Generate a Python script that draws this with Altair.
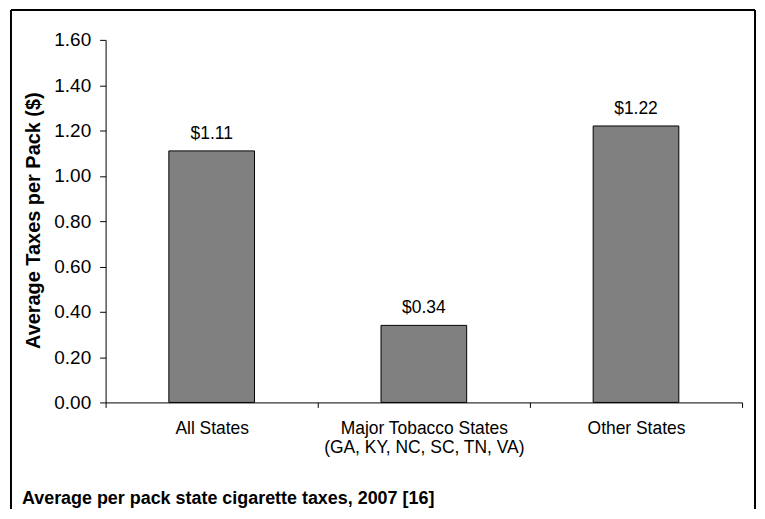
import altair as alt
import pandas as pd

# ---- data ----
categories = ["All States", "Major Tobacco States|(GA, KY, NC, SC, TN, VA)", "Other States"]
taxes = [1.11, 0.34, 1.22]
value_labels = ["$1.11", "$0.34", "$1.22"]
y_ticks = [0.0, 0.2, 0.4, 0.6, 0.8, 1.0, 1.2, 1.4, 1.6]
y_title = "Average Taxes per Pack ($)"
caption = "Average per pack state cigarette taxes, 2007 [16]"

FONT = "Liberation Sans"

df = pd.DataFrame({"category": categories, "tax": taxes, "label": value_labels})
one = pd.DataFrame({"k": [0]})

x_enc = alt.X(
    "category:N",
    sort=categories,
    scale=alt.Scale(paddingInner=0, paddingOuter=0),
    axis=alt.Axis(
        title=None,
        labelAngle=0,
        tickBand="extent",
        labelExpr="split(datum.label, '|')",
        labelFont=FONT,
        labelFontSize=17.5,
        labelColor="black",
        labelBaseline="alphabetic",
        labelPadding=26,
        labelLineHeight=19,
        labelLimit=0,
        labelOverlap=False,
        tickSize=5,
        tickColor="black",
        domainColor="black",
    ),
)

y_enc = alt.Y(
    "tax:Q",
    scale=alt.Scale(domain=[0, 1.6], nice=False, zero=True),
    axis=alt.Axis(
        values=y_ticks,
        format=".2f",
        grid=False,
        title=y_title,
        titleFont=FONT,
        titleFontSize=20,
        titleFontWeight="bold",
        titleColor="black",
        titleAngle=270,
        titleAlign="center",
        titleBaseline="alphabetic",
        titleX=-66,
        titleY=181,
        labelFont=FONT,
        labelFontSize=19,
        labelColor="black",
        labelPadding=9,
        tickSize=6,
        tickColor="black",
        domainColor="black",
    ),
)

bars = alt.Chart(df).mark_bar(
    size=86, color="#808080", stroke="black", strokeWidth=1
).encode(x=x_enc, y=y_enc)

labels = alt.Chart(df).mark_text(
    dy=-12, baseline="alphabetic", align="center", font=FONT, fontSize=17.5, color="black"
).encode(x=alt.X("category:N", sort=categories), y="tax:Q", text="label:N")

frame_left = alt.Chart(one).mark_rule(color="black", strokeWidth=2).encode(
    x=alt.value(-95), y=alt.value(-30), y2=alt.value(490)
)
frame_top = alt.Chart(one).mark_rule(color="black", strokeWidth=2).encode(
    x=alt.value(-95), x2=alt.value(652), y=alt.value(-30)
)
frame_right = alt.Chart(one).mark_rule(color="black", strokeWidth=2).encode(
    x=alt.value(652), y=alt.value(-30), y2=alt.value(490)
)

caption_mark = alt.Chart(one).mark_text(
    align="left", baseline="alphabetic", font=FONT, fontSize=18, fontWeight="bold", color="black"
).encode(x=alt.value(-84), y=alt.value(466), text=alt.value(caption))

chart = alt.layer(
    bars, labels, frame_left, frame_top, frame_right, caption_mark
).properties(
    width=639,
    height=364,
    autosize=alt.AutoSizeParams(type="none"),
    padding={"left": 98, "top": 31, "right": 15, "bottom": 106},
).configure_view(stroke=None)

chart.save("out.html", embed_options={"renderer": "svg", "actions": False})
